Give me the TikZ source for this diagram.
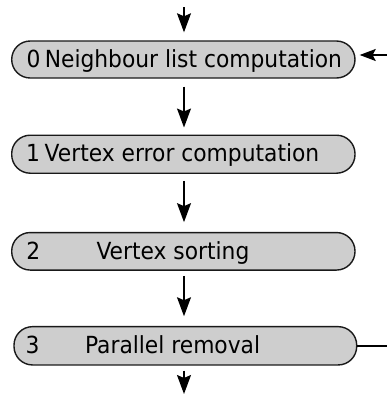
\documentclass[tikz,border=0pt]{standalone}
\usepackage{fontspec}
\usepackage{graphicx}
\setmainfont{DejaVu Sans}
\usetikzlibrary{arrows.meta}
\definecolor{boxfill}{RGB}{206,206,206}
\newcommand{\tallt}[1]{\scalebox{1}[1.08]{#1}}
\begin{document}
\begin{tikzpicture}[x=1pt,y=-1pt,
  stagebox/.style={draw=black!90, line width=1.4pt, fill=boxfill, rounded corners=18.5pt, inner sep=0pt},
  lbl/.style={anchor=base west, inner sep=0pt, font=\fontsize{21.8pt}{26pt}\selectfont},
  arr/.style={line width=1.4pt, -{Stealth[length=19pt,width=14pt,inset=3pt]}},
  sarr/.style={line width=1.4pt, -{Stealth[length=16pt,width=12pt,inset=3pt]}},
  ln/.style={line width=1.4pt}]
\useasboundingbox (0,0) rectangle (387,394);
% boxes
\node[stagebox, minimum width=343.3pt, minimum height=37pt] (b0) at (183.35,59.5) {};
\node[stagebox, minimum width=343.3pt, minimum height=38pt] (b1) at (183.35,154.2) {};
\node[stagebox, minimum width=343.3pt, minimum height=37.5pt] (b2) at (183.35,251.3) {};
\node[stagebox, minimum width=342.7pt, minimum height=38.3pt] (b3) at (185.35,345.8) {};
% texts
\node[lbl] (n0) at (26.4,67.3) {\tallt{0}};
\node[lbl] (t0) at (44.6,67.3) {\tallt{Neighbour list computation}};
\node[lbl] (n1) at (26,161.5) {\tallt{1}};
\node[lbl] (t1) at (44.5,161.5) {\tallt{Vertex error computation}};
\node[lbl] (n2) at (26.3,259.8) {\tallt{2}};
\node[lbl] (t2) at (96.3,259.8) {\tallt{Vertex sorting}};
\node[lbl] (n3) at (25.3,353.1) {\tallt{3}};
\node[lbl] (t3) at (84.8,353.1) {\tallt{Parallel removal}};
% connector ends
\coordinate (top) at (184,7);
\coordinate (bot) at (184,394);
\coordinate (rin) at (387,55);
\coordinate (rout) at (387,346);
% connectors
\draw[arr, shorten >=8pt] (top) -- (b0.north -| top);
\draw[arr, shorten <=8pt, shorten >=7pt] (b0.south -| top) -- (b1.north -| top);
\draw[arr, shorten <=7pt, shorten >=9.7pt] (b1.south -| top) -- (b2.north -| top);
\draw[arr, shorten <=5pt, shorten >=9.7pt] (b2.south -| top) -- (b3.north -| top);
\draw[arr, shorten <=5pt] (b3.south -| bot) -- (bot);
\draw[sarr, shorten >=4pt] (rin) -- (rin -| b0.east);
\draw[ln] (b3.east |- rout) -- (rout);
\end{tikzpicture}
\end{document}
